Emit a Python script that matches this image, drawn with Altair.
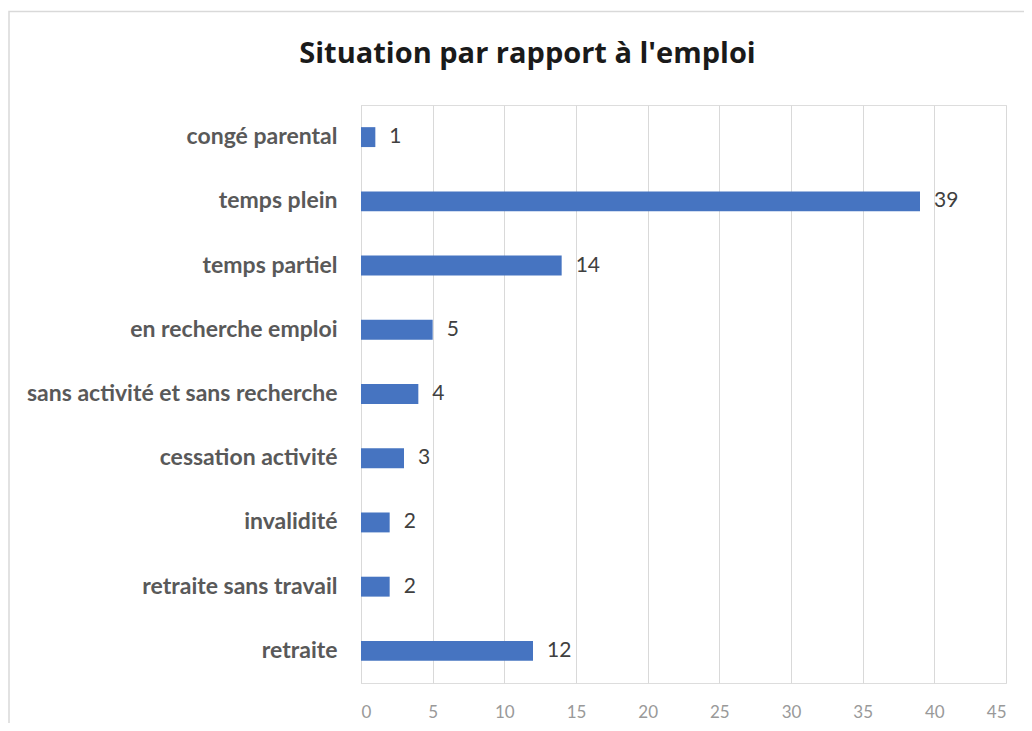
import altair as alt
import pandas as pd

categories = ["congé parental", "temps plein", "temps partiel", "en recherche emploi",
              "sans activité et sans recherche", "cessation activité", "invalidité",
              "retraite sans travail", "retraite"]
values = [1, 39, 14, 5, 4, 3, 2, 2, 12]
tick_values = [0, 5, 10, 15, 20, 25, 30, 35, 40, 45]
title_text = "Situation par rapport à l'emploi"

df = pd.DataFrame({"cat": categories, "val": values})

x_enc = alt.X("val:Q", scale=alt.Scale(domain=[0, 45], nice=False),
              axis=alt.Axis(values=tick_values, title=None, domain=False, ticks=False,
                            grid=True, gridColor="#d9d9d9", labelColor="#999999",
                            labelFontSize=17, labelPadding=21, labelFont="Lato"))
y_enc = alt.Y("cat:N", sort=categories,
              scale=alt.Scale(paddingInner=0.69, paddingOuter=0.345),
              axis=alt.Axis(title=None, ticks=False, domain=True, domainColor="#d9d9d9",
                            labelColor="#595959", labelFontSize=23, labelFontWeight="bold",
                            labelFont="Lato", labelPadding=24, grid=False, labelLimit=500))

bars = alt.Chart(df).mark_bar(color="#4674C1").encode(x=x_enc, y=y_enc)
labels = alt.Chart(df).mark_text(align="left", baseline="middle", dx=14, fontSize=21,
                                 font="Lato", color="#404040").encode(
    x="val:Q", y=alt.Y("cat:N", sort=categories), text="val:Q")

frame = alt.Chart(pd.DataFrame({"a": [0]})).mark_rect(
    fill="transparent", stroke="#d9d9d9", strokeWidth=1.5).encode(
    x=alt.value(-352), x2=alt.value(700), y=alt.value(-93.5), y2=alt.value(700))

chart = alt.layer(frame, bars, labels).properties(
    width=645, height=578,
    padding={"left": 353, "top": 97, "right": 18, "bottom": 40},
    autosize=alt.AutoSizeParams(type="none"),
    title=alt.TitleParams(title_text, fontSize=29, font="Open Sans", fontWeight="bold",
                          color="#1a1a1a", anchor="middle", dx=-156, offset=-58),
).configure_view(strokeWidth=0).configure(background="white")

chart.save("out.html", embed_options={"renderer": "svg", "actions": False})
